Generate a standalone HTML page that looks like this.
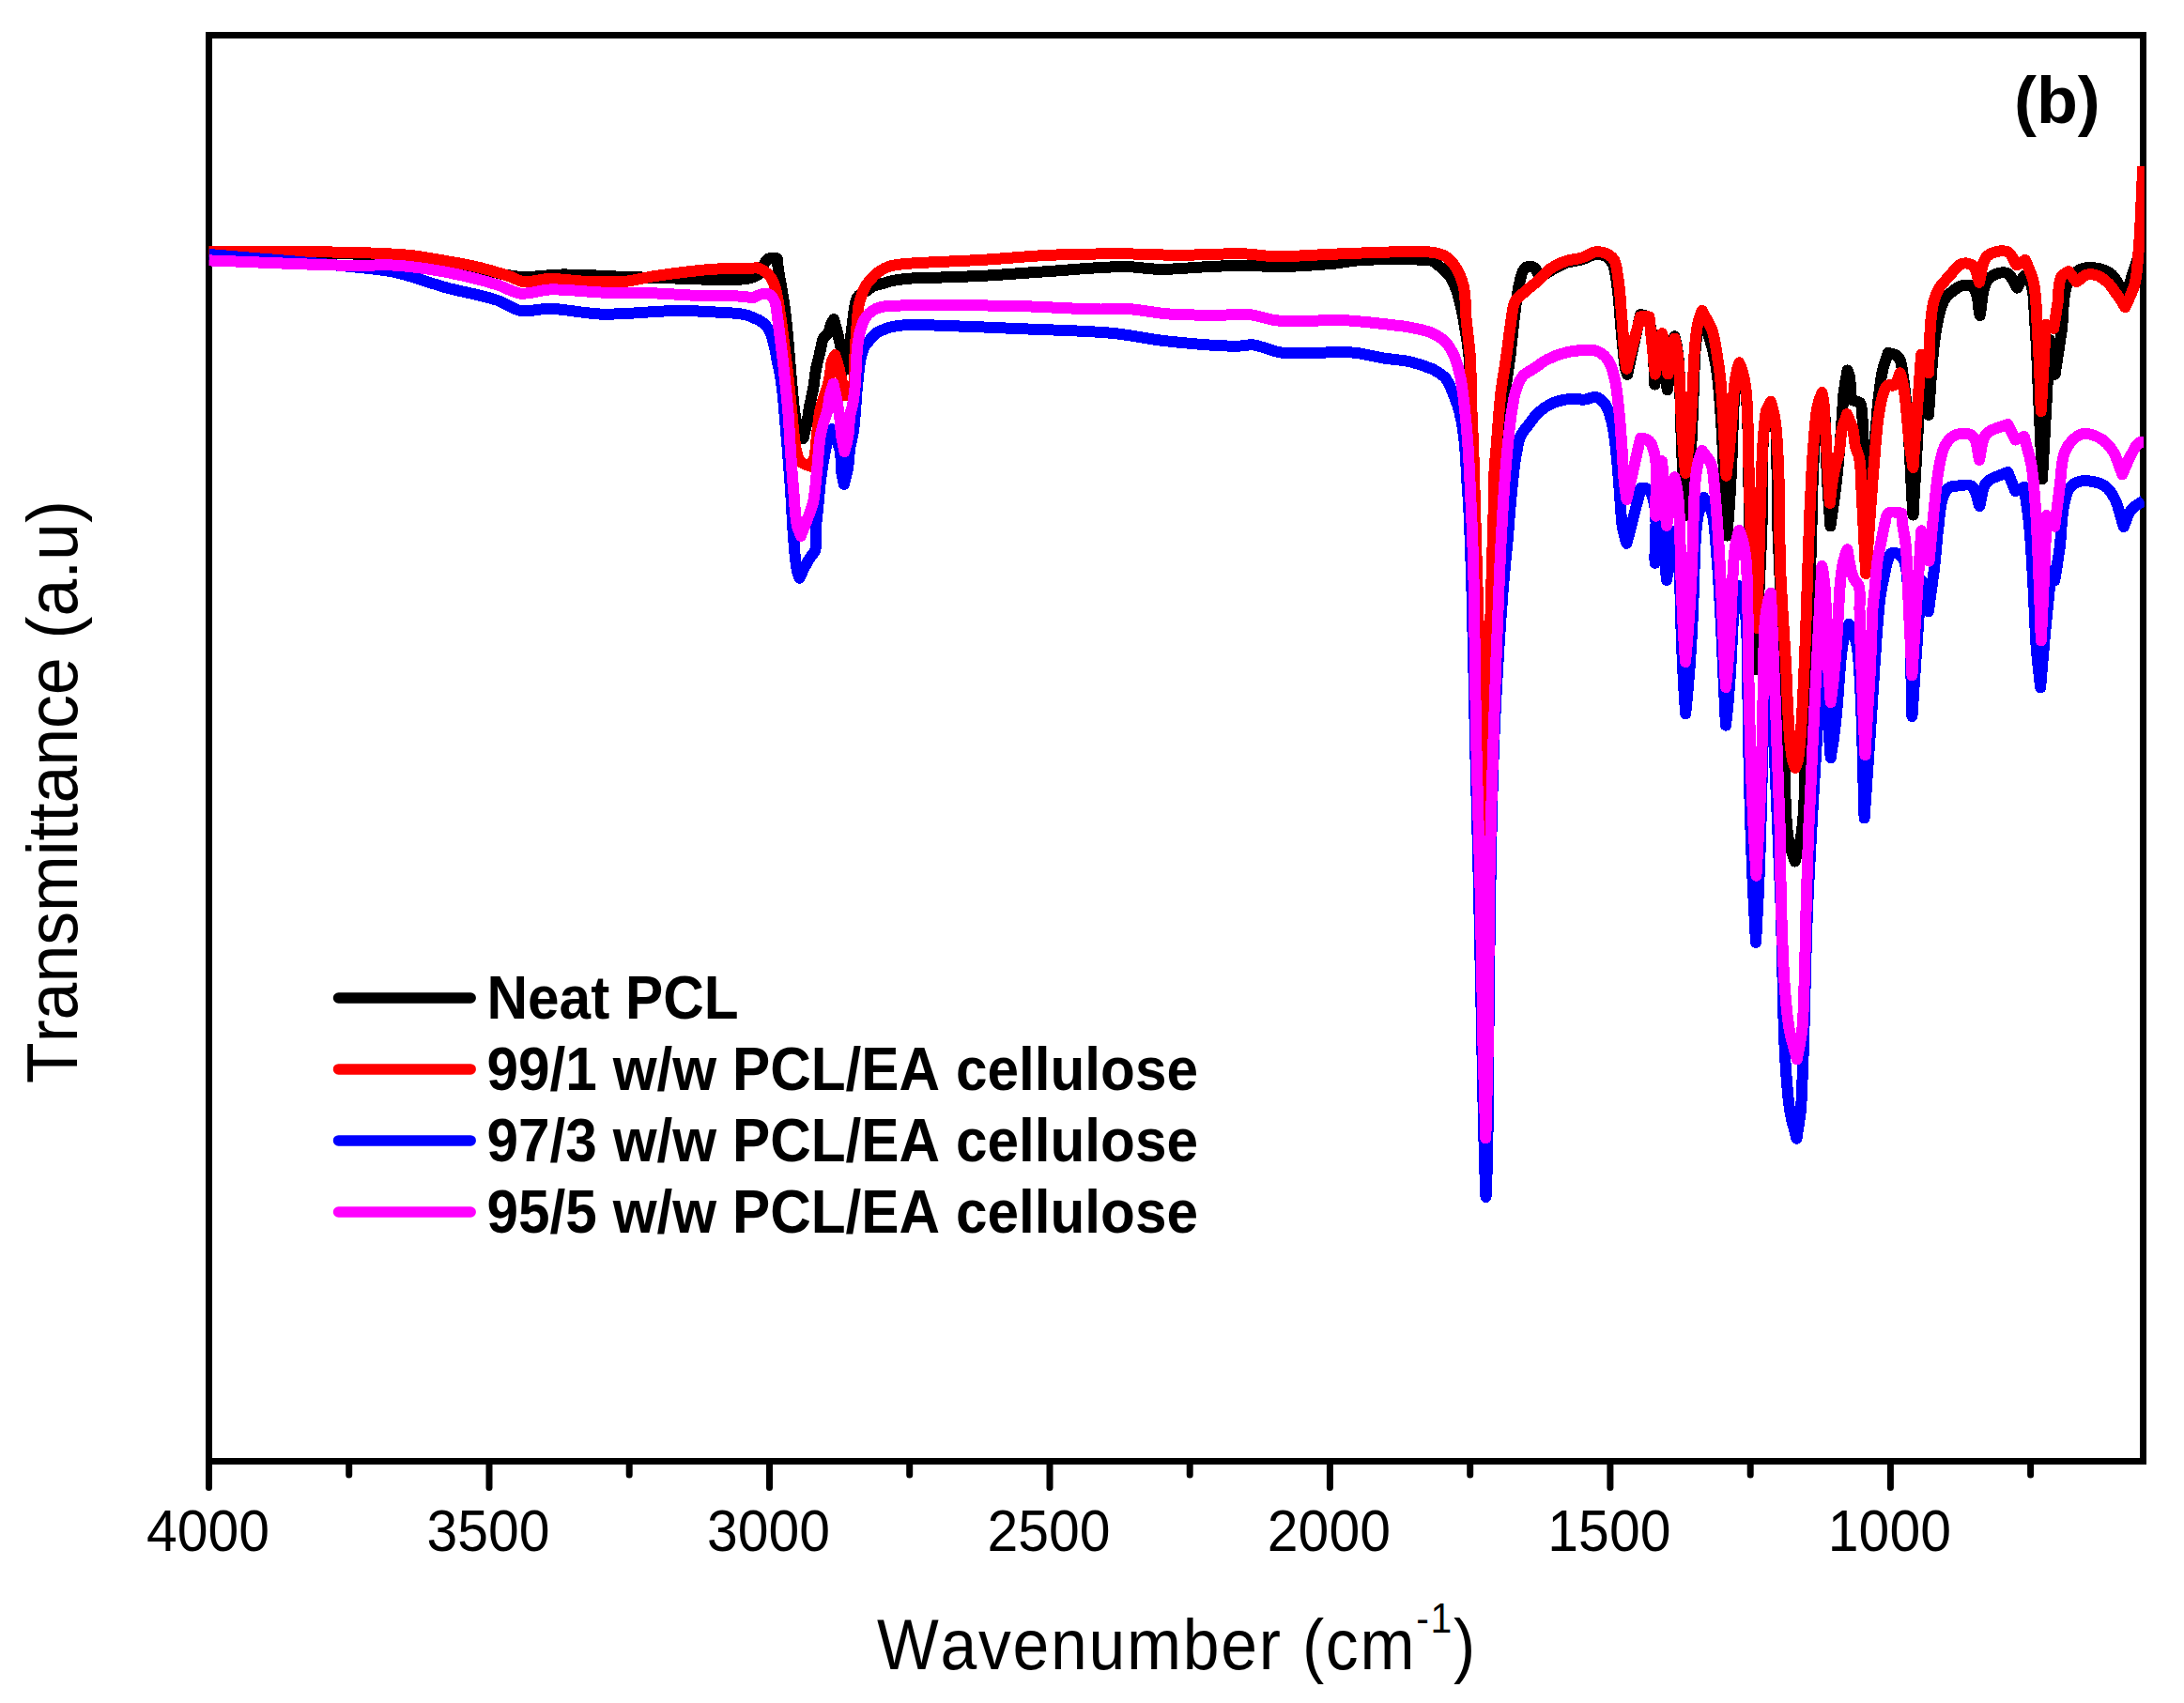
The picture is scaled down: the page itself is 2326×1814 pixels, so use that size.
<!DOCTYPE html>
<html lang="en"><head><meta charset="utf-8"><title>FTIR spectra (b)</title>
<style>
html,body{margin:0;padding:0;background:#fff;}
body{width:2326px;height:1814px;overflow:hidden;}
svg{display:block;}
text{font-family:"Liberation Sans",Arial,Helvetica,sans-serif;fill:#000;font-kerning:none;}
.tk{font-size:63.1px;text-anchor:middle;}
.ax{font-size:75.4px;}
.lg{font-size:65.5px;font-weight:bold;}
.cv{fill:none;stroke-width:12;stroke-linejoin:round;stroke-linecap:butt;}
</style></head>
<body>
<svg width="2326" height="1814" viewBox="0 0 2326 1814">
<rect x="0" y="0" width="2326" height="1814" fill="#fff"/>
<defs><clipPath id="plotclip"><rect x="222.5" y="30" width="2061.3" height="1530"/></clipPath></defs>
<g id="axes" stroke="#000" stroke-width="7" fill="none">
<rect x="222.5" y="37.5" width="2060" height="1519"/>
<g stroke-linecap="round">
<line x1="222.5" y1="1556.5" x2="222.5" y2="1584.5"/>
<line x1="521.0" y1="1556.5" x2="521.0" y2="1584.5"/>
<line x1="819.5" y1="1556.5" x2="819.5" y2="1584.5"/>
<line x1="1118.0" y1="1556.5" x2="1118.0" y2="1584.5"/>
<line x1="1416.4" y1="1556.5" x2="1416.4" y2="1584.5"/>
<line x1="1714.9" y1="1556.5" x2="1714.9" y2="1584.5"/>
<line x1="2013.4" y1="1556.5" x2="2013.4" y2="1584.5"/>
<line x1="371.7" y1="1556.5" x2="371.7" y2="1571"/>
<line x1="670.2" y1="1556.5" x2="670.2" y2="1571"/>
<line x1="968.7" y1="1556.5" x2="968.7" y2="1571"/>
<line x1="1267.2" y1="1556.5" x2="1267.2" y2="1571"/>
<line x1="1565.7" y1="1556.5" x2="1565.7" y2="1571"/>
<line x1="1864.2" y1="1556.5" x2="1864.2" y2="1571"/>
<line x1="2162.6" y1="1556.5" x2="2162.6" y2="1571"/>
</g></g>
<g id="curves" clip-path="url(#plotclip)" shape-rendering="crispEdges">
<path class="cv" stroke="#000000" d="M222.5 270.0C268.6 270.1 330.0 269.3 376.0 270.5C394.0 271.0 418.1 271.7 436.0 273.5C447.8 274.7 463.3 277.5 475.0 279.5C485.5 281.3 499.5 284.1 510.0 286.3C519.9 288.3 533.0 291.9 543.0 293.5C547.2 294.2 552.8 294.9 557.0 295.0C569.3 295.3 585.7 292.7 598.0 292.5C618.7 292.2 646.3 294.3 667.0 295.0C683.5 295.5 705.5 296.1 722.0 296.6C738.5 297.0 760.5 298.4 777.0 298.0C783.0 297.9 791.1 298.0 797.0 296.6C800.5 295.8 805.3 294.3 808.0 292.0C812.2 288.4 813.1 279.3 817.6 276.1C819.1 275.0 821.7 274.9 823.5 274.8C824.7 274.7 826.4 275.2 827.6 275.3C828.1 279.4 828.6 284.8 829.2 288.8C830.1 294.8 831.8 302.7 832.8 308.7C834.0 315.7 835.4 325.1 836.3 332.2C837.6 342.8 838.8 356.9 839.8 367.5C840.9 379.8 842.1 396.3 843.3 408.6C844.3 418.8 845.2 432.5 846.9 442.6C847.8 447.9 848.9 455.1 851.0 460.0C852.0 462.3 854.1 464.9 855.5 467.0C856.5 462.5 858.1 456.5 859.0 452.0C860.2 446.1 861.2 438.0 862.3 432.1C863.2 427.1 864.9 420.6 865.8 415.6C867.1 408.6 868.0 399.1 869.3 392.1C870.5 386.1 872.6 378.2 874.0 372.2C874.7 369.0 875.2 364.6 876.4 361.6C876.8 360.7 877.5 359.5 878.1 358.7C879.2 357.3 881.3 356.0 882.2 354.5C883.7 351.9 883.8 347.7 885.0 345.0C885.7 343.4 887.2 341.5 888.1 340.0C889.7 346.1 891.9 354.2 893.3 360.4C895.6 370.4 898.3 383.8 900.4 393.8C902.0 383.8 904.3 370.4 905.8 360.4C906.8 353.7 907.8 344.8 908.7 338.1C909.2 334.2 909.7 329.0 910.5 325.2C911.0 322.7 911.5 319.2 912.8 317.0C913.9 315.1 916.2 313.2 918.0 312.0C919.4 311.1 921.8 310.7 923.3 309.8C925.2 308.7 927.2 306.1 929.2 305.1C932.2 303.6 936.8 302.9 940.0 302.0C943.0 301.2 946.9 299.8 950.0 299.2C955.8 298.0 963.8 297.1 969.7 296.6C978.8 295.9 990.9 295.9 1000.0 295.6C1014.6 295.1 1034.1 294.5 1048.7 293.7C1069.3 292.6 1096.8 290.3 1117.4 289.0C1142.1 287.4 1175.0 283.9 1199.8 284.1C1210.5 284.2 1224.8 286.8 1235.5 286.9C1249.5 287.1 1268.2 285.0 1282.2 284.4C1295.4 283.8 1313.0 282.7 1326.2 282.7C1336.1 282.7 1349.2 284.2 1359.1 284.1C1377.3 284.0 1401.5 282.4 1419.6 280.8C1427.9 280.0 1438.7 277.9 1447.0 277.3C1467.6 275.9 1495.1 275.9 1515.7 276.7C1518.4 276.8 1522.1 276.6 1524.7 277.5C1526.3 278.1 1528.1 279.7 1529.5 280.8C1533.8 284.2 1539.9 288.8 1543.2 293.2C1546.5 297.6 1549.4 304.5 1551.4 309.7C1553.1 314.1 1554.4 320.4 1555.5 325.0C1556.9 331.0 1558.5 339.0 1559.5 345.0C1561.3 355.5 1563.5 369.4 1564.5 380.0C1566.1 396.9 1566.2 419.5 1566.9 436.4C1567.4 447.7 1568.2 462.7 1568.6 474.0C1569.0 485.3 1569.4 500.3 1569.8 511.6C1570.1 520.1 1570.4 531.3 1570.7 539.8C1571.5 565.3 1572.5 599.2 1573.3 624.7C1574.4 662.3 1575.9 712.4 1577.0 750.0C1578.2 789.0 1579.8 841.0 1581.0 880.0C1582.2 841.0 1583.8 789.0 1585.0 750.0C1586.1 712.4 1587.5 662.3 1588.6 624.7C1589.4 596.4 1590.6 558.7 1591.5 530.4C1591.8 521.9 1591.9 510.6 1592.5 502.2C1593.1 493.7 1594.6 482.5 1595.5 474.0C1596.1 468.4 1596.6 460.8 1597.3 455.2C1598.7 443.9 1601.2 428.9 1602.9 417.6C1604.5 406.3 1606.9 391.3 1608.3 380.0C1609.6 369.5 1610.8 355.5 1612.0 345.0C1612.8 337.9 1614.0 328.4 1615.0 321.3C1615.7 316.4 1616.4 309.8 1617.5 305.0C1618.8 299.4 1619.7 291.2 1623.3 286.7C1624.4 285.3 1626.6 284.0 1628.3 283.8C1630.2 283.6 1632.9 284.3 1634.4 285.5C1637.2 287.7 1638.3 292.9 1640.0 296.0C1643.2 293.9 1647.2 290.9 1650.5 289.0C1655.5 286.0 1662.2 282.1 1667.7 280.1C1672.7 278.3 1679.9 277.9 1685.0 276.4C1689.5 275.1 1695.1 271.3 1699.8 271.0C1703.6 270.8 1708.9 271.9 1712.1 274.0C1714.6 275.7 1716.8 279.3 1718.0 282.0C1720.1 286.7 1720.7 293.6 1721.5 298.7C1722.5 305.0 1723.4 313.6 1724.0 320.0C1724.7 327.5 1725.4 337.5 1726.0 345.0C1726.7 353.1 1727.6 363.9 1728.5 372.0C1729.2 378.0 1729.8 386.1 1731.0 392.0C1731.5 394.1 1732.5 396.9 1733.1 399.0C1737.3 379.9 1742.8 354.4 1747.0 335.3C1748.5 335.5 1750.8 335.1 1752.0 336.0C1754.5 337.7 1756.1 342.0 1757.0 345.0C1762.6 363.6 1760.7 390.2 1762.3 409.6C1762.7 407.3 1763.2 404.3 1763.5 402.0C1763.8 399.9 1764.2 397.0 1764.5 394.9C1764.7 392.9 1765.0 390.3 1765.2 388.3C1765.4 386.5 1765.6 384.1 1765.8 382.4C1765.9 380.7 1766.2 378.6 1766.3 376.9C1766.5 375.5 1766.7 373.6 1766.8 372.1C1767.0 370.8 1767.2 369.1 1767.4 367.9C1767.5 366.8 1767.7 365.4 1767.9 364.3C1768.1 363.4 1768.3 362.2 1768.5 361.3C1768.6 360.7 1768.8 359.8 1769.0 359.1C1769.1 358.6 1769.2 358.0 1769.3 357.6C1769.4 357.4 1769.5 357.2 1769.5 357.0C1769.5 357.2 1769.6 357.5 1769.6 357.7C1769.7 358.2 1769.9 358.8 1770.0 359.3C1770.1 360.1 1770.3 361.1 1770.4 361.8C1770.6 362.8 1770.8 364.1 1770.9 365.1C1771.0 366.3 1771.2 367.9 1771.4 369.1C1771.5 370.5 1771.7 372.4 1771.8 373.8C1772.0 375.4 1772.2 377.6 1772.3 379.2C1772.4 381.0 1772.6 383.4 1772.8 385.2C1772.9 387.2 1773.1 389.9 1773.3 391.9C1773.5 394.0 1773.7 397.0 1773.9 399.1C1774.1 401.5 1774.5 404.7 1774.7 407.0C1775.0 409.6 1775.5 413.0 1775.8 415.5C1776.2 413.0 1776.7 409.7 1777.1 407.2C1777.4 404.9 1777.8 401.8 1778.1 399.5C1778.3 397.3 1778.6 394.5 1778.8 392.3C1779.0 390.4 1779.3 387.8 1779.5 385.8C1779.6 384.0 1779.9 381.7 1780.0 379.9C1780.2 378.3 1780.4 376.2 1780.6 374.7C1780.7 373.3 1781.0 371.4 1781.1 370.1C1781.3 368.9 1781.5 367.3 1781.7 366.1C1781.9 365.2 1782.1 363.9 1782.3 362.9C1782.5 362.2 1782.7 361.2 1782.8 360.5C1782.9 360.0 1783.1 359.3 1783.2 358.9C1783.3 358.7 1783.3 358.4 1783.4 358.2C1783.6 358.9 1783.8 359.7 1784.0 360.4C1784.4 362.0 1784.9 364.2 1785.3 365.8C1785.8 368.2 1786.3 371.5 1786.6 374.0C1787.1 377.2 1787.5 381.5 1787.8 384.7C1788.1 388.6 1788.4 393.8 1788.6 397.8C1788.8 402.4 1789.0 408.5 1789.2 413.1C1789.4 418.4 1789.5 425.4 1789.7 430.7C1789.8 436.6 1790.0 444.5 1790.2 450.4C1790.4 456.9 1790.7 465.6 1790.9 472.2C1791.2 479.3 1791.5 488.8 1791.9 496.0C1792.3 503.7 1792.8 514.0 1793.3 521.8C1793.8 530.1 1794.6 541.2 1795.2 549.5C1796.1 540.2 1797.4 527.7 1798.2 518.4C1798.9 509.7 1799.8 498.2 1800.3 489.5C1800.9 481.5 1801.5 470.8 1801.9 462.8C1802.2 455.5 1802.6 445.7 1802.9 438.4C1803.2 431.8 1803.5 422.9 1803.7 416.3C1803.9 410.4 1804.1 402.5 1804.4 396.6C1804.6 391.4 1804.8 384.5 1805.2 379.4C1805.4 375.0 1805.9 369.1 1806.4 364.7C1806.8 361.1 1807.4 356.3 1808.1 352.7C1808.6 349.9 1809.5 346.2 1810.3 343.5C1810.9 341.7 1811.7 339.2 1812.4 337.4C1812.7 336.7 1813.2 335.7 1813.5 335.0C1814.8 340.1 1816.6 346.9 1818.0 352.0C1819.7 358.0 1822.5 365.9 1824.0 372.0C1826.0 380.3 1828.0 391.5 1829.0 400.0C1835.0 450.9 1836.1 519.4 1839.2 570.6C1839.9 562.7 1840.8 552.3 1841.4 544.4C1841.9 537.1 1842.5 527.4 1843.0 520.1C1843.3 513.3 1843.8 504.3 1844.1 497.6C1844.4 491.4 1844.7 483.2 1844.9 477.0C1845.1 471.5 1845.3 464.0 1845.5 458.4C1845.7 453.5 1845.9 446.8 1846.1 441.9C1846.3 437.5 1846.5 431.7 1846.8 427.4C1847.0 423.6 1847.4 418.7 1847.8 415.0C1848.1 412.0 1848.6 407.9 1849.1 404.9C1849.4 402.6 1850.0 399.5 1850.6 397.2C1850.9 395.6 1851.5 393.6 1851.9 392.1C1852.1 391.4 1852.4 390.6 1852.6 390.0C1853.1 391.1 1853.7 392.6 1854.1 393.7C1855.1 396.4 1856.2 400.0 1856.9 402.8C1857.8 406.9 1858.7 412.5 1859.2 416.6C1859.9 422.0 1860.4 429.3 1860.7 434.7C1861.1 441.3 1861.3 450.2 1861.5 456.8C1861.7 464.6 1861.8 475.0 1861.9 482.8C1862.1 491.7 1862.2 503.5 1862.4 512.4C1862.6 522.4 1862.8 535.7 1863.0 545.7C1863.3 556.7 1863.7 571.4 1864.1 582.4C1864.5 594.5 1865.0 610.6 1865.6 622.6C1866.1 635.7 1867.0 653.1 1867.7 666.2C1868.5 680.2 1869.7 699.0 1870.6 713.0C1871.3 691.1 1872.2 661.9 1873.0 640.0C1873.9 615.9 1875.9 583.9 1876.5 559.8C1876.9 541.9 1876.4 517.9 1876.8 500.0C1877.1 488.0 1877.3 472.0 1878.5 460.0C1879.0 455.2 1879.4 448.6 1881.0 444.0C1881.8 441.7 1883.7 439.1 1884.9 437.0C1886.1 439.1 1888.2 441.7 1889.0 444.0C1890.6 448.6 1891.1 455.2 1891.5 460.0C1892.6 472.0 1892.3 488.0 1892.5 500.0C1892.8 517.9 1892.8 541.9 1893.3 559.8C1893.6 571.9 1894.5 587.9 1895.0 600.0C1896.3 631.5 1898.0 673.5 1899.0 705.0C1899.8 731.6 1900.5 767.2 1901.0 793.8C1901.4 814.9 1900.8 843.2 1902.0 864.3C1902.6 874.4 1903.4 888.0 1905.5 898.0C1906.7 904.0 1909.8 911.6 1911.6 917.5C1913.2 911.6 1915.8 904.0 1917.0 898.0C1918.9 888.0 1920.2 874.5 1920.9 864.3C1922.4 843.2 1922.0 814.9 1922.5 793.8C1923.2 767.2 1924.2 731.6 1925.0 705.0C1925.9 673.5 1927.3 631.5 1928.3 600.0C1928.7 587.9 1929.2 571.9 1929.5 559.8C1929.8 547.1 1930.1 530.2 1930.5 517.5C1931.0 504.7 1931.7 487.7 1932.5 475.0C1933.1 466.0 1933.4 453.9 1935.0 445.0C1936.1 438.9 1938.8 431.0 1940.5 425.0C1941.2 428.9 1942.5 434.1 1943.0 438.0C1944.1 447.5 1944.1 460.4 1944.5 470.0C1945.0 482.0 1945.4 498.0 1946.0 510.0C1946.8 525.2 1948.4 545.4 1949.4 560.5C1951.1 548.4 1953.5 532.2 1955.0 520.0C1956.6 506.6 1958.3 488.7 1959.5 475.2C1960.0 469.6 1960.5 462.0 1960.9 456.4C1961.2 452.2 1961.6 446.5 1961.9 442.3C1962.2 438.1 1962.5 432.4 1962.8 428.2C1963.1 424.0 1963.6 418.3 1964.2 414.1C1965.0 408.2 1966.6 400.4 1967.6 394.5C1968.3 396.8 1969.5 399.7 1970.0 402.0C1970.8 405.8 1970.5 411.1 1971.0 415.0C1971.4 418.3 1970.9 423.4 1973.0 426.0C1974.6 427.9 1979.3 427.1 1980.9 429.0C1983.1 431.6 1982.6 436.7 1983.0 440.0C1984.1 448.9 1984.1 461.0 1984.5 470.0C1985.1 481.5 1985.8 496.7 1986.3 508.2C1989.1 497.6 1993.8 483.8 1995.8 473.0C1998.4 458.6 1998.8 439.1 2000.6 424.6C2001.8 414.9 2003.2 401.8 2005.5 392.3C2006.7 387.3 2009.2 380.9 2010.8 376.0C2012.4 376.3 2014.5 376.4 2016.0 377.0C2018.0 377.7 2020.7 378.8 2022.0 380.5C2024.8 384.1 2025.2 390.6 2026.0 395.0C2033.9 440.5 2034.0 502.5 2037.5 548.6C2040.3 499.5 2044.2 434.1 2047.0 385.0C2049.1 402.1 2051.8 424.8 2053.9 441.9C2056.3 414.8 2057.2 378.3 2062.0 351.5C2063.7 341.8 2065.7 328.3 2070.6 319.8C2073.0 315.6 2078.1 311.2 2082.1 308.3C2084.4 306.6 2087.9 304.5 2090.7 304.0C2093.7 303.5 2098.5 303.4 2100.8 305.4C2107.9 311.8 2106.3 327.0 2108.6 336.2C2111.4 324.4 2109.8 305.7 2118.1 296.8C2122.1 292.5 2131.2 289.0 2136.8 290.8C2142.4 292.6 2144.9 301.9 2148.3 306.6C2150.5 302.8 2153.3 297.8 2155.5 294.0C2157.4 295.8 2160.8 297.6 2162.0 300.0C2167.5 310.8 2165.9 328.0 2167.0 340.0C2169.1 363.9 2169.9 396.0 2171.0 420.0C2172.3 447.1 2173.8 483.3 2175.0 510.4C2176.5 483.3 2178.6 447.1 2180.0 420.0C2180.9 402.6 2182.0 379.4 2182.8 362.0C2184.5 373.0 2186.9 387.7 2188.6 398.7C2190.8 384.5 2193.7 365.7 2195.8 351.5C2198.1 336.0 2195.8 313.6 2203.0 299.7C2205.7 294.4 2211.8 288.1 2217.4 286.2C2224.8 283.7 2236.2 285.3 2243.3 288.6C2247.7 290.6 2252.3 295.6 2254.8 299.7C2258.6 305.9 2259.8 315.8 2262.0 322.7C2264.6 314.1 2268.0 302.5 2270.6 293.9C2272.7 287.0 2276.4 278.0 2277.8 270.9C2280.7 256.5 2280.9 236.7 2282.2 222.0"/>
<path class="cv" stroke="#ff0000" d="M222.5 268.4C268.6 268.5 330.0 267.7 376.0 268.9C394.0 269.4 418.1 270.1 436.0 271.9C447.8 273.1 463.3 276.0 475.0 278.0C485.5 279.8 499.6 282.3 510.0 284.8C520.0 287.2 533.2 291.2 543.0 294.5C547.3 296.0 552.5 299.4 557.0 300.0C565.4 301.1 576.6 297.1 585.0 297.0C597.3 296.8 613.7 299.6 626.0 300.0C638.3 300.4 654.8 300.9 667.0 299.7C675.5 298.9 686.6 295.8 695.0 294.5C707.3 292.5 723.7 290.4 736.0 289.0C743.2 288.2 752.8 287.1 760.0 286.7C772.0 286.0 788.0 286.3 800.0 285.8C802.0 285.7 804.6 285.1 806.5 285.4C808.7 285.8 811.5 287.0 813.4 288.3C816.3 290.2 819.7 293.6 821.6 296.5C823.2 298.9 824.4 302.5 825.3 305.2C826.7 309.7 827.7 315.9 828.6 320.5C829.9 327.5 831.3 336.9 832.3 344.0C833.5 352.8 834.9 364.5 836.0 373.3C837.1 382.1 838.6 393.9 839.6 402.7C840.8 413.2 842.0 427.3 843.2 437.9C844.7 451.1 845.4 469.0 848.5 482.0C849.2 485.0 849.9 489.3 852.0 491.5C854.5 494.2 859.7 495.1 863.0 496.7C864.3 493.8 866.5 490.2 867.3 487.2C868.6 482.7 868.7 476.4 869.2 471.7C869.9 465.9 870.5 458.1 871.2 452.3C871.8 447.7 872.6 441.5 873.5 437.0C874.2 433.7 875.4 429.4 876.4 426.2C877.7 421.9 879.9 416.4 881.1 412.1C882.2 408.3 883.3 403.1 884.0 399.2C884.7 395.0 884.5 389.2 885.8 385.1C886.5 382.9 888.2 380.3 889.3 378.2C890.6 382.3 892.4 387.8 893.5 392.0C894.7 396.8 895.9 403.2 897.0 408.0C898.0 412.0 899.4 417.4 900.4 421.4C901.8 421.0 903.9 420.9 905.0 420.0C906.5 418.8 907.6 416.3 908.2 414.5C910.8 406.0 909.5 393.9 910.0 385.1C910.3 379.8 910.8 372.8 911.1 367.5C911.4 362.2 911.9 355.1 912.3 349.8C912.9 342.4 913.3 332.5 914.6 325.2C915.2 322.0 916.4 317.7 917.5 314.6C918.7 311.3 920.4 306.9 922.2 304.0C924.5 300.3 928.4 295.8 931.6 292.9C934.4 290.4 938.7 287.5 942.1 285.8C944.3 284.7 947.6 283.6 950.0 283.0C955.8 281.6 963.8 281.1 969.7 280.6C978.8 279.8 990.9 279.5 1000.0 279.0C1014.6 278.3 1034.1 277.6 1048.7 276.7C1069.3 275.5 1096.8 272.7 1117.4 271.8C1142.1 270.7 1175.1 270.3 1199.8 270.4C1216.3 270.5 1238.2 271.8 1254.7 271.8C1276.2 271.9 1304.8 269.7 1326.2 270.4C1335.3 270.7 1347.3 272.9 1356.4 273.1C1375.4 273.6 1400.6 271.4 1419.6 270.7C1442.7 269.9 1473.4 268.3 1496.5 268.2C1505.6 268.2 1517.8 267.5 1526.7 269.0C1530.7 269.7 1536.1 271.1 1539.5 273.2C1543.0 275.4 1547.0 279.6 1549.3 283.0C1553.2 288.7 1556.8 297.3 1558.5 304.0C1561.3 314.8 1560.6 329.9 1561.7 341.0C1562.8 352.7 1565.0 368.3 1565.8 380.0C1566.9 396.9 1566.8 419.5 1567.4 436.4C1567.8 447.7 1568.7 462.7 1569.1 474.0C1569.5 485.3 1569.9 500.3 1570.2 511.6C1570.4 520.1 1570.8 531.3 1571.0 539.8C1571.7 565.3 1572.8 599.2 1573.5 624.7C1574.6 662.3 1575.9 712.4 1577.0 750.0C1578.2 791.4 1579.8 846.6 1581.0 888.0C1582.2 846.6 1583.9 791.4 1585.0 750.0C1586.0 712.4 1587.3 662.3 1588.3 624.7C1589.1 596.4 1590.3 558.7 1591.0 530.4C1591.2 521.9 1591.1 510.7 1591.5 502.2C1591.9 493.7 1593.1 482.5 1593.8 474.0C1594.2 468.4 1594.7 460.8 1595.2 455.2C1596.1 443.9 1597.2 428.8 1598.5 417.6C1599.9 406.3 1602.6 391.3 1604.2 380.0C1605.9 368.3 1607.5 352.6 1609.5 341.0C1610.5 335.1 1610.7 326.6 1613.5 321.3C1615.5 317.6 1620.2 314.2 1623.3 311.4C1627.6 307.5 1633.8 302.9 1638.1 299.0C1642.0 295.5 1646.2 289.8 1650.5 286.7C1655.2 283.3 1662.3 280.0 1667.7 278.1C1672.7 276.3 1679.9 276.0 1685.0 274.4C1689.6 273.0 1695.0 268.7 1699.8 268.2C1703.5 267.8 1708.8 269.0 1712.1 270.7C1714.8 272.1 1717.9 275.0 1719.4 277.6C1721.7 281.7 1722.0 288.3 1722.8 292.9C1723.7 298.1 1724.6 305.2 1725.1 310.5C1725.8 317.5 1726.3 327.0 1726.9 334.0C1727.5 341.1 1728.3 350.4 1728.8 357.5C1729.3 364.5 1729.7 374.0 1730.5 381.0C1730.9 384.5 1731.8 389.2 1732.3 392.7C1736.7 376.1 1742.6 354.0 1747.0 337.4C1749.8 337.4 1753.6 337.4 1756.4 337.4C1758.3 355.8 1760.9 380.2 1762.8 398.6C1763.2 396.7 1763.7 394.2 1764.0 392.3C1764.3 390.6 1764.7 388.2 1765.0 386.5C1765.2 384.8 1765.5 382.7 1765.7 381.1C1765.9 379.6 1766.2 377.6 1766.3 376.1C1766.5 374.8 1766.7 373.0 1766.9 371.6C1767.0 370.5 1767.2 368.9 1767.4 367.7C1767.5 366.6 1767.8 365.2 1767.9 364.2C1768.1 363.3 1768.3 362.1 1768.5 361.2C1768.6 360.5 1768.9 359.5 1769.0 358.8C1769.2 358.2 1769.4 357.5 1769.6 356.9C1769.7 356.6 1769.8 356.1 1769.9 355.7C1770.0 355.5 1770.1 355.3 1770.1 355.2C1770.1 355.3 1770.2 355.5 1770.2 355.7C1770.3 356.1 1770.5 356.6 1770.6 356.9C1770.7 357.5 1770.9 358.2 1771.0 358.8C1771.2 359.5 1771.4 360.5 1771.5 361.2C1771.6 362.1 1771.8 363.3 1772.0 364.2C1772.1 365.2 1772.3 366.6 1772.4 367.6C1772.6 368.8 1772.8 370.4 1772.9 371.6C1773.0 372.9 1773.2 374.7 1773.4 376.1C1773.5 377.5 1773.7 379.5 1773.9 381.0C1774.1 382.6 1774.3 384.8 1774.5 386.4C1774.7 388.1 1775.1 390.5 1775.3 392.2C1775.6 394.1 1776.1 396.6 1776.4 398.5C1776.8 396.8 1777.3 394.6 1777.6 393.0C1777.9 391.5 1778.2 389.4 1778.5 387.9C1778.7 386.5 1779.0 384.6 1779.2 383.1C1779.4 381.8 1779.6 380.1 1779.8 378.8C1779.9 377.6 1780.1 376.1 1780.3 374.9C1780.5 373.9 1780.6 372.5 1780.8 371.4C1781.0 370.5 1781.2 369.3 1781.3 368.4C1781.5 367.6 1781.7 366.5 1781.9 365.8C1782.0 365.1 1782.2 364.3 1782.4 363.6C1782.5 363.1 1782.7 362.5 1782.9 362.0C1783.0 361.7 1783.1 361.3 1783.2 360.9C1783.3 360.8 1783.4 360.6 1783.4 360.5C1783.5 361.0 1783.7 361.6 1783.9 362.1C1784.2 363.3 1784.6 365.0 1784.9 366.2C1785.3 368.0 1785.7 370.5 1786.0 372.3C1786.4 374.7 1786.8 377.9 1787.1 380.3C1787.5 383.3 1787.8 387.2 1788.0 390.1C1788.3 393.6 1788.6 398.2 1788.8 401.7C1789.0 405.6 1789.2 410.9 1789.4 414.8C1789.6 419.2 1789.8 425.1 1790.0 429.6C1790.2 434.5 1790.5 441.0 1790.8 445.9C1791.1 451.2 1791.4 458.4 1791.8 463.7C1792.2 469.5 1792.7 477.2 1793.2 483.0C1793.7 489.3 1794.5 497.6 1795.1 503.8C1796.0 496.3 1797.2 486.3 1798.0 478.7C1798.7 471.7 1799.5 462.4 1800.1 455.4C1800.6 448.9 1801.2 440.3 1801.6 433.9C1801.9 428.0 1802.4 420.1 1802.7 414.2C1802.9 408.8 1803.2 401.7 1803.5 396.4C1803.7 391.6 1804.0 385.2 1804.3 380.5C1804.5 376.3 1804.9 370.7 1805.3 366.6C1805.6 363.0 1806.1 358.3 1806.6 354.7C1807.0 351.8 1807.6 347.9 1808.3 345.1C1808.8 342.8 1809.5 339.9 1810.2 337.7C1810.7 336.2 1811.4 334.2 1812.0 332.8C1812.2 332.2 1812.6 331.4 1812.8 330.8C1814.2 333.5 1816.1 337.1 1817.5 339.8C1819.3 343.3 1821.9 347.9 1823.3 351.6C1824.6 355.0 1825.6 359.8 1826.3 363.3C1827.4 368.6 1828.4 375.7 1829.2 381.0C1830.1 387.3 1831.5 395.7 1832.1 402.0C1835.2 433.3 1836.6 475.3 1838.5 506.7C1839.2 501.5 1840.1 494.5 1840.8 489.2C1841.3 484.4 1842.0 477.9 1842.4 473.0C1842.9 468.5 1843.3 462.5 1843.7 458.0C1844.0 453.9 1844.4 448.4 1844.7 444.3C1844.9 440.6 1845.2 435.7 1845.5 431.9C1845.7 428.6 1846.0 424.2 1846.3 420.9C1846.6 418.0 1846.9 414.1 1847.2 411.2C1847.5 408.7 1847.9 405.4 1848.3 403.0C1848.7 400.9 1849.2 398.2 1849.6 396.2C1849.9 394.7 1850.4 392.6 1850.8 391.1C1851.1 390.1 1851.5 388.7 1851.8 387.7C1852.0 387.3 1852.2 386.7 1852.3 386.3C1852.7 387.3 1853.3 388.5 1853.7 389.5C1854.6 391.9 1855.7 395.1 1856.3 397.5C1857.3 401.1 1858.2 406.0 1858.8 409.6C1859.5 414.3 1860.0 420.7 1860.4 425.4C1860.8 431.2 1861.1 439.0 1861.3 444.8C1861.6 451.6 1861.7 460.7 1861.9 467.5C1862.1 475.3 1862.3 485.7 1862.4 493.4C1862.6 502.2 1862.9 513.8 1863.1 522.6C1863.4 532.2 1863.8 545.1 1864.2 554.7C1864.6 565.3 1865.2 579.4 1865.8 589.9C1866.3 601.3 1867.2 616.6 1868.0 628.0C1868.8 640.3 1870.1 656.7 1871.0 669.0C1871.7 648.3 1872.6 620.7 1873.2 600.0C1874.1 570.9 1874.9 532.1 1876.0 503.0C1876.1 500.3 1876.3 496.7 1876.4 494.0C1876.7 488.4 1876.9 480.8 1877.3 475.2C1877.8 468.1 1878.4 458.7 1879.2 451.7C1879.7 447.5 1879.9 441.7 1881.1 437.6C1882.0 434.5 1884.4 430.7 1885.8 427.8C1887.0 432.2 1888.8 437.9 1889.7 442.3C1890.5 446.5 1891.2 452.2 1891.6 456.4C1892.2 462.0 1892.7 469.6 1893.0 475.2C1893.3 480.8 1893.7 488.4 1893.9 494.0C1894.1 499.6 1894.4 507.2 1894.6 512.8C1894.8 521.3 1895.0 532.5 1895.1 541.0C1895.2 546.6 1895.2 554.2 1895.3 559.8C1895.5 571.9 1895.5 587.9 1895.9 600.0C1897.0 631.7 1900.1 674.0 1901.9 705.7C1903.4 732.1 1904.0 767.5 1906.8 793.8C1907.4 799.0 1908.2 805.9 1909.5 811.0C1910.0 813.1 1911.2 815.8 1912.0 817.8C1912.8 815.8 1914.0 813.1 1914.5 811.0C1915.8 805.9 1916.3 799.0 1916.8 793.8C1919.3 767.4 1920.6 732.1 1921.8 705.7C1923.3 674.0 1924.4 631.7 1925.5 600.0C1925.9 587.9 1926.5 571.9 1926.9 559.8C1927.1 554.2 1927.4 546.6 1927.6 541.0C1927.9 533.9 1928.5 524.6 1928.8 517.5C1929.1 510.5 1929.5 501.0 1929.9 494.0C1930.2 488.4 1930.9 480.8 1931.3 475.2C1931.8 468.1 1932.5 458.7 1933.2 451.7C1933.8 446.0 1934.4 438.4 1935.6 432.9C1936.6 428.3 1939.0 422.5 1940.4 418.0C1941.0 421.1 1941.9 425.1 1942.3 428.2C1943.0 433.8 1942.9 441.4 1943.3 447.0C1943.7 452.6 1944.3 460.2 1944.7 465.8C1945.0 471.1 1945.3 478.3 1945.6 483.6C1946.5 499.3 1947.8 520.2 1948.8 535.9C1949.6 529.0 1950.5 519.7 1951.6 512.8C1952.5 507.1 1954.0 499.6 1955.4 494.0C1956.1 491.1 1957.6 487.5 1958.2 484.6C1960.0 476.3 1960.1 464.7 1962.0 456.4C1963.1 451.7 1965.6 445.6 1967.1 441.0C1969.0 445.8 1972.0 451.9 1973.3 456.9C1974.8 462.6 1974.7 470.5 1976.1 476.2C1977.0 479.7 1979.4 484.0 1980.1 487.5C1982.2 497.5 1981.9 511.2 1982.5 521.4C1983.4 535.9 1984.2 555.3 1985.0 569.8C1985.6 582.2 1986.5 598.6 1987.2 611.0C1988.5 593.8 1990.1 570.9 1991.4 553.7C1992.8 534.3 1994.6 508.5 1996.3 489.1C1997.6 474.6 1998.6 455.1 2001.1 440.7C2002.5 432.7 2004.0 421.7 2007.6 414.4C2008.3 413.0 2009.4 411.1 2010.8 410.4C2012.6 409.5 2015.7 411.4 2017.3 410.3C2021.0 407.9 2021.6 401.1 2023.5 397.2C2023.6 397.5 2023.8 398.0 2023.9 398.4C2024.2 399.2 2024.5 400.3 2024.8 401.2C2025.1 402.5 2025.6 404.2 2025.9 405.5C2026.3 407.2 2026.8 409.5 2027.1 411.2C2027.5 413.2 2027.9 416.0 2028.2 418.0C2028.5 420.5 2028.9 423.7 2029.2 426.1C2029.5 428.9 2029.9 432.6 2030.1 435.4C2030.4 438.5 2030.8 442.7 2031.1 445.8C2031.4 449.2 2031.8 453.8 2032.1 457.3C2032.5 461.0 2033.0 466.0 2033.4 469.8C2033.9 473.9 2034.6 479.3 2035.2 483.4C2035.8 487.8 2036.8 493.6 2037.5 498.0C2040.1 461.9 2043.5 413.8 2046.1 377.7C2048.4 383.6 2051.6 391.6 2053.9 397.5C2055.5 375.1 2053.9 344.6 2059.1 322.7C2060.4 317.2 2063.3 310.2 2066.3 305.4C2068.7 301.5 2073.3 297.3 2076.4 293.9C2080.1 289.9 2084.1 282.7 2089.3 281.0C2092.6 279.9 2098.1 280.5 2100.8 282.7C2105.4 286.3 2105.8 295.4 2108.0 300.8C2110.6 292.3 2110.1 278.5 2116.7 272.6C2121.6 268.2 2132.1 265.8 2138.2 268.3C2142.9 270.2 2144.8 278.2 2147.7 282.4C2150.5 280.8 2154.2 278.5 2157.0 276.9C2159.6 283.7 2164.0 292.6 2165.6 299.7C2169.0 314.9 2168.9 335.9 2169.9 351.5C2171.1 368.8 2172.1 391.8 2172.8 409.1C2173.2 417.8 2173.4 429.4 2173.7 438.1C2174.7 420.8 2176.2 397.6 2177.1 380.3C2177.6 369.9 2178.1 356.1 2178.5 345.7C2181.1 347.0 2184.6 348.7 2187.2 350.0C2188.5 341.8 2190.2 330.9 2191.5 322.7C2192.8 314.1 2191.2 301.3 2195.8 293.9C2197.2 291.7 2200.8 290.5 2203.0 289.0C2205.6 292.4 2209.0 296.9 2211.6 300.3C2215.1 298.0 2219.1 293.5 2223.2 292.5C2226.6 291.7 2231.5 292.6 2234.7 293.9C2238.7 295.5 2243.1 299.5 2246.2 302.6C2249.2 305.7 2252.3 310.6 2254.8 314.1C2257.5 318.0 2260.9 323.3 2263.5 327.3C2266.5 319.9 2271.5 310.3 2273.5 302.6C2276.3 291.6 2276.8 276.4 2277.8 265.1C2278.9 252.2 2279.6 234.9 2280.2 222.0C2280.9 208.6 2281.6 190.7 2282.2 177.3"/>
<path class="cv" stroke="#0000ff" d="M222.5 271.0C268.6 275.0 330.0 279.4 376.0 284.3C389.2 285.7 407.0 287.1 420.0 289.8C436.9 293.4 458.4 301.7 475.0 306.3C491.4 310.8 513.9 314.4 530.0 320.0C537.6 322.6 546.5 329.6 554.4 331.0C563.5 332.6 575.8 328.6 585.0 328.8C601.6 329.1 623.4 334.1 640.0 334.6C664.6 335.4 697.4 331.1 722.0 331.0C733.4 331.0 748.6 331.6 760.0 332.4C771.1 333.1 786.3 332.9 797.0 336.0C798.0 336.3 799.1 337.1 800.0 337.5C802.4 338.6 805.9 339.7 808.2 341.0C810.5 342.3 813.5 344.4 815.3 346.3C817.3 348.4 819.4 351.8 820.6 354.5C822.3 358.3 823.5 363.9 824.5 368.0C825.6 372.5 826.6 378.5 827.5 383.0C828.5 388.1 830.0 394.9 830.9 400.0C831.9 406.0 833.0 414.0 833.7 420.0C835.0 432.0 836.0 448.0 837.1 460.0C837.4 463.5 837.9 468.2 838.2 471.7C839.5 487.2 841.0 507.8 842.1 523.3C843.2 538.8 843.9 559.5 845.3 575.0C846.2 585.5 846.9 599.7 849.4 609.9C849.8 611.7 850.9 614.0 851.6 615.7C852.9 612.8 854.6 608.9 856.0 606.0C857.7 602.6 860.0 598.2 862.0 595.0C863.6 592.4 867.0 589.5 868.0 586.6C870.4 579.6 868.5 569.4 869.0 562.1C869.4 556.3 870.3 548.5 870.9 542.7C871.9 533.0 872.9 520.1 874.1 510.4C874.8 505.0 875.9 497.7 876.8 492.3C877.7 486.9 878.9 479.7 880.1 474.3C880.9 470.4 881.7 465.0 883.3 461.3C883.9 459.9 885.1 458.4 885.9 457.1C887.1 459.5 888.8 462.7 889.8 465.2C890.9 467.9 892.2 471.5 893.0 474.3C893.7 476.6 894.6 479.6 895.0 482.0C896.0 488.1 895.5 496.5 896.3 502.7C896.8 506.7 898.0 512.0 898.8 516.0C900.1 510.4 902.3 503.1 903.2 497.5C904.2 491.7 904.2 483.9 905.1 478.1C906.0 472.3 908.1 464.6 909.0 458.8C909.9 453.0 910.4 445.2 910.9 439.4C911.4 433.6 911.7 425.8 912.2 420.0C912.6 414.8 913.3 407.9 913.9 402.7C914.6 396.7 915.2 388.6 916.5 382.7C917.5 378.4 918.9 372.5 921.0 368.6C922.2 366.4 924.7 364.1 926.3 362.2C928.2 360.0 930.4 356.8 932.7 355.1C934.6 353.7 937.6 352.5 939.8 351.6C942.8 350.4 946.8 348.8 950.0 348.1C955.8 346.8 963.8 346.2 969.7 346.0C978.8 345.6 990.9 346.4 1000.0 346.7C1027.0 347.6 1062.9 349.1 1089.9 350.3C1118.7 351.6 1157.3 352.2 1186.0 355.0C1202.6 356.6 1224.4 361.4 1241.0 363.2C1264.0 365.7 1294.8 368.8 1317.9 368.7C1322.9 368.7 1329.5 366.9 1334.4 367.4C1343.7 368.3 1355.3 374.4 1364.6 375.6C1387.5 378.6 1418.5 373.5 1441.5 375.6C1451.5 376.5 1464.6 380.0 1474.5 381.6C1482.7 382.9 1493.9 383.5 1502.0 385.4C1509.0 387.0 1518.1 390.0 1524.7 392.8C1526.4 393.5 1528.5 394.7 1530.0 395.7C1533.0 397.6 1537.1 400.0 1539.4 402.6C1541.3 404.8 1542.8 408.4 1544.1 411.0C1545.7 414.3 1547.5 418.9 1548.8 422.3C1550.0 425.4 1551.6 429.5 1552.6 432.6C1553.8 436.6 1555.2 441.9 1556.0 446.0C1557.6 454.3 1559.1 465.6 1560.0 474.0C1561.1 485.2 1561.6 500.3 1562.3 511.6C1562.8 520.1 1563.8 531.3 1564.2 539.8C1565.5 565.3 1566.6 599.2 1567.4 624.7C1568.8 672.6 1569.8 736.6 1570.9 784.5C1572.1 833.9 1573.9 899.6 1575.0 949.0C1576.1 998.3 1577.3 1064.1 1578.3 1113.4C1579.1 1150.4 1579.9 1199.8 1581.0 1236.8C1581.4 1248.3 1582.0 1263.5 1582.5 1275.0C1583.0 1263.5 1583.7 1248.3 1584.0 1236.8C1584.9 1199.8 1584.9 1150.4 1585.3 1113.4C1585.9 1064.1 1586.4 998.3 1587.3 949.0C1588.2 899.6 1589.3 833.8 1591.4 784.5C1593.4 736.5 1597.3 672.6 1601.0 624.7C1602.1 609.9 1604.3 590.1 1605.6 575.3C1606.9 560.5 1608.3 540.8 1609.8 526.0C1610.9 514.9 1612.1 500.0 1614.0 489.0C1615.3 481.5 1616.5 471.2 1619.6 464.3C1621.4 460.2 1625.6 455.6 1628.3 452.0C1631.1 448.2 1634.6 442.9 1638.1 439.7C1642.0 436.1 1648.0 432.0 1652.9 429.8C1658.5 427.3 1666.6 425.5 1672.7 424.9C1677.1 424.5 1683.1 425.9 1687.5 425.6C1691.3 425.3 1696.1 422.2 1699.8 423.1C1703.5 424.0 1707.5 427.9 1709.7 431.0C1713.6 436.4 1715.5 445.5 1717.1 452.0C1719.7 462.9 1720.8 477.9 1722.0 489.0C1723.2 500.1 1724.1 514.9 1725.0 526.0C1725.9 537.1 1726.3 552.0 1728.2 563.0C1729.0 567.9 1731.1 574.2 1732.4 579.0C1737.0 561.3 1743.0 537.6 1747.6 519.9C1749.2 519.9 1751.5 519.3 1753.0 520.0C1755.3 521.0 1757.7 523.7 1758.7 526.0C1767.5 546.4 1761.4 577.7 1762.6 599.8C1763.0 597.2 1763.5 593.8 1763.8 591.3C1764.2 588.9 1764.5 585.7 1764.8 583.3C1765.0 581.2 1765.3 578.2 1765.5 576.0C1765.7 574.0 1766.0 571.3 1766.1 569.3C1766.3 567.5 1766.5 565.1 1766.7 563.3C1766.8 561.7 1767.0 559.5 1767.2 557.9C1767.3 556.5 1767.6 554.6 1767.7 553.2C1767.9 552.0 1768.1 550.3 1768.3 549.1C1768.4 548.1 1768.7 546.8 1768.8 545.8C1769.0 545.1 1769.2 544.1 1769.4 543.3C1769.5 542.8 1769.6 542.2 1769.7 541.7C1769.8 541.5 1769.9 541.2 1769.9 541.0C1769.9 541.3 1770.0 541.6 1770.0 541.9C1770.1 542.5 1770.2 543.4 1770.3 544.1C1770.4 545.0 1770.5 546.4 1770.6 547.3C1770.7 548.6 1770.9 550.4 1771.0 551.6C1771.1 553.2 1771.3 555.3 1771.4 556.9C1771.5 558.8 1771.6 561.2 1771.7 563.1C1771.9 565.2 1772.0 568.0 1772.1 570.1C1772.2 572.5 1772.4 575.7 1772.5 578.1C1772.6 580.7 1772.8 584.2 1772.9 586.8C1773.0 589.7 1773.2 593.5 1773.4 596.4C1773.6 599.5 1773.8 603.6 1774.1 606.8C1774.3 610.1 1774.6 614.6 1774.9 617.9C1775.3 615.6 1775.9 612.6 1776.3 610.4C1776.7 608.3 1777.1 605.5 1777.4 603.4C1777.7 601.4 1778.1 598.9 1778.3 596.9C1778.5 595.2 1778.8 592.8 1779.0 591.0C1779.2 589.4 1779.4 587.3 1779.6 585.7C1779.8 584.2 1780.1 582.3 1780.3 580.9C1780.4 579.7 1780.7 578.0 1780.9 576.7C1781.1 575.7 1781.3 574.2 1781.5 573.2C1781.7 572.3 1782.0 571.1 1782.2 570.3C1782.3 569.6 1782.6 568.7 1782.8 568.1C1782.9 567.6 1783.1 567.0 1783.2 566.6C1783.3 566.4 1783.3 566.2 1783.4 566.0C1783.6 566.7 1783.8 567.5 1784.0 568.2C1784.4 569.9 1785.0 572.1 1785.3 573.7C1785.8 576.2 1786.3 579.5 1786.7 582.0C1787.1 585.3 1787.5 589.6 1787.8 592.9C1788.1 596.9 1788.4 602.2 1788.6 606.2C1788.9 610.9 1789.1 617.1 1789.2 621.8C1789.4 627.2 1789.5 634.3 1789.7 639.6C1789.8 645.6 1790.0 653.6 1790.2 659.7C1790.4 666.3 1790.7 675.1 1790.9 681.8C1791.2 689.0 1791.6 698.7 1791.9 705.9C1792.3 713.8 1792.8 724.3 1793.3 732.1C1793.8 740.6 1794.6 751.8 1795.2 760.3C1796.1 750.3 1797.5 736.9 1798.3 726.9C1799.1 717.6 1800.0 705.2 1800.6 695.9C1801.2 687.3 1801.8 675.8 1802.3 667.2C1802.6 659.4 1803.1 648.9 1803.4 641.0C1803.6 633.9 1803.9 624.4 1804.2 617.3C1804.4 610.9 1804.6 602.5 1804.8 596.1C1805.0 590.6 1805.3 583.2 1805.6 577.6C1805.9 572.9 1806.3 566.6 1806.8 561.9C1807.2 558.0 1807.9 552.8 1808.6 549.0C1809.2 546.0 1810.2 542.1 1811.0 539.2C1811.6 537.2 1812.6 534.6 1813.4 532.6C1813.7 531.8 1814.2 530.8 1814.6 530.0C1817.1 534.5 1821.4 540.1 1823.0 545.0C1825.9 553.6 1826.1 566.0 1827.0 575.0C1832.6 634.1 1834.7 713.4 1838.0 772.7C1838.7 766.2 1839.7 757.6 1840.3 751.2C1840.8 745.2 1841.5 737.2 1841.9 731.2C1842.4 725.6 1842.8 718.2 1843.2 712.7C1843.5 707.6 1843.8 700.8 1844.1 695.8C1844.3 691.2 1844.6 685.1 1844.8 680.5C1845.0 676.4 1845.3 670.9 1845.5 666.8C1845.7 663.3 1846.0 658.5 1846.4 654.9C1846.6 651.9 1847.0 647.8 1847.5 644.8C1847.8 642.3 1848.3 638.9 1848.8 636.4C1849.1 634.5 1849.7 632.0 1850.2 630.1C1850.5 628.8 1851.0 627.1 1851.4 625.9C1851.6 625.4 1851.8 624.7 1852.0 624.2C1852.5 625.5 1853.3 627.2 1853.8 628.5C1854.8 631.7 1856.1 636.0 1856.8 639.3C1857.8 644.1 1858.6 650.6 1859.1 655.5C1859.8 661.9 1860.2 670.4 1860.4 676.7C1860.7 684.5 1860.9 694.9 1861.0 702.7C1861.2 711.9 1861.2 724.1 1861.4 733.2C1861.5 743.7 1861.6 757.6 1861.8 768.1C1862.0 779.8 1862.2 795.4 1862.5 807.2C1862.7 820.1 1863.1 837.4 1863.5 850.4C1863.9 864.5 1864.4 883.4 1865.0 897.6C1865.5 913.0 1866.4 933.4 1867.1 948.8C1867.9 965.3 1869.1 987.3 1870.0 1003.8C1870.7 990.4 1871.8 972.6 1872.4 959.3C1873.0 946.8 1873.7 930.3 1874.2 917.8C1874.6 906.4 1875.1 891.1 1875.4 879.6C1875.7 869.1 1876.1 855.1 1876.3 844.6C1876.5 835.1 1876.7 822.5 1876.9 813.0C1877.0 804.5 1877.1 793.2 1877.3 784.7C1877.4 777.3 1877.5 767.5 1877.7 760.1C1877.8 753.8 1878.0 745.3 1878.3 739.0C1878.6 733.9 1879.0 727.0 1879.6 721.8C1880.0 717.9 1880.8 712.6 1881.6 708.7C1882.1 706.1 1883.0 702.6 1883.8 700.0C1884.1 698.9 1884.6 697.6 1885.0 696.5C1888.5 777.6 1894.0 885.8 1896.7 966.9C1897.6 993.0 1898.2 1027.7 1898.8 1053.8C1899.1 1066.8 1899.4 1084.2 1899.9 1097.2C1900.4 1110.2 1901.1 1127.6 1902.1 1140.6C1903.1 1153.7 1904.2 1171.2 1906.4 1184.1C1907.9 1192.8 1911.3 1204.2 1913.4 1212.8C1914.7 1204.2 1916.8 1192.8 1917.7 1184.1C1919.0 1171.1 1919.3 1153.7 1919.9 1140.6C1920.5 1127.6 1921.0 1110.2 1921.4 1097.2C1921.8 1084.2 1922.1 1066.8 1922.5 1053.8C1923.2 1027.7 1924.0 993.0 1925.1 966.9C1928.9 879.8 1936.6 763.7 1941.5 676.6C1941.6 677.0 1941.7 677.6 1941.8 678.1C1942.0 679.2 1942.3 680.7 1942.4 681.8C1942.7 683.5 1943.0 685.7 1943.2 687.4C1943.5 689.6 1943.8 692.5 1944.0 694.7C1944.2 697.4 1944.5 700.9 1944.6 703.6C1944.8 706.8 1945.0 711.0 1945.2 714.1C1945.3 717.7 1945.5 722.5 1945.6 726.1C1945.8 730.1 1945.9 735.5 1946.1 739.5C1946.3 744.0 1946.5 750.0 1946.6 754.4C1946.8 759.3 1947.1 765.8 1947.4 770.7C1947.6 775.9 1948.0 783.0 1948.4 788.3C1948.7 793.9 1949.3 801.5 1949.7 807.2C1950.6 801.0 1952.0 792.8 1952.9 786.6C1953.6 780.8 1954.6 773.1 1955.2 767.4C1955.8 762.1 1956.4 755.0 1956.9 749.6C1957.3 744.8 1957.8 738.3 1958.1 733.4C1958.5 729.0 1958.9 723.2 1959.2 718.8C1959.5 714.8 1959.9 709.6 1960.2 705.7C1960.5 702.3 1961.0 697.7 1961.4 694.3C1961.8 691.3 1962.4 687.4 1962.9 684.5C1963.4 682.1 1964.1 678.9 1964.8 676.5C1965.3 674.7 1966.1 672.3 1966.7 670.5C1967.1 669.2 1967.8 667.6 1968.3 666.4C1968.6 665.9 1968.9 665.3 1969.1 664.8C1971.5 670.9 1975.4 678.7 1977.0 685.0C1978.5 690.9 1979.0 699.0 1979.5 705.0C1983.5 754.8 1983.8 821.5 1985.6 871.5C1987.7 841.4 1990.4 801.2 1992.5 771.0C1994.8 738.0 1997.2 694.0 2000.0 661.0C2000.7 652.5 2001.6 641.2 2002.9 632.8C2003.7 627.1 2005.4 619.6 2006.6 614.0C2007.7 608.9 2008.7 601.9 2010.4 597.0C2011.2 594.6 2011.9 590.8 2014.0 589.5C2015.5 588.5 2018.3 588.9 2020.0 589.5C2022.1 590.2 2024.7 592.2 2026.0 594.0C2028.0 596.7 2029.1 601.3 2029.9 604.6C2031.2 610.1 2031.3 617.8 2031.8 623.4C2032.3 629.0 2032.9 636.6 2033.2 642.2C2035.0 678.4 2035.4 726.8 2036.4 763.1C2039.3 719.6 2043.3 661.5 2046.2 618.0C2048.5 628.0 2051.5 641.4 2053.8 651.4C2055.7 637.1 2058.5 618.1 2060.2 603.8C2061.7 590.8 2062.8 573.3 2064.5 560.3C2065.8 550.5 2066.1 536.8 2070.0 527.7C2071.3 524.7 2073.7 520.7 2076.5 519.0C2078.8 517.6 2082.6 517.7 2085.2 517.5C2089.4 517.1 2095.8 515.2 2099.3 517.5C2105.1 521.4 2105.6 532.5 2108.3 539.0C2110.5 531.5 2110.6 520.0 2115.6 514.0C2120.5 508.2 2131.5 506.3 2138.3 503.0C2140.8 509.1 2144.0 517.2 2146.5 523.3C2149.3 521.9 2153.0 520.0 2155.8 518.6C2157.4 531.1 2160.0 547.7 2161.2 560.3C2163.1 579.8 2164.4 605.9 2165.5 625.5C2166.6 645.0 2167.3 671.1 2168.8 690.6C2169.8 703.1 2171.8 719.8 2173.1 732.3C2174.8 713.3 2176.8 687.9 2178.6 668.9C2179.8 655.9 2181.7 638.5 2182.9 625.5C2183.4 620.3 2184.0 613.2 2184.5 608.0C2185.6 611.1 2187.2 615.2 2188.3 618.3C2190.0 607.4 2192.4 592.9 2193.8 582.0C2195.4 569.0 2195.4 551.4 2198.1 538.6C2199.4 532.5 2200.6 523.7 2204.6 519.0C2207.2 515.9 2212.6 513.1 2216.6 512.5C2224.1 511.4 2235.0 513.5 2241.5 517.5C2246.1 520.3 2249.9 526.9 2252.4 531.7C2256.7 539.9 2258.9 552.4 2261.7 561.2C2264.1 555.7 2266.1 547.7 2269.8 543.0C2272.9 539.1 2279.0 536.0 2283.0 533.0"/>
<path class="cv" stroke="#ff00ff" d="M222.5 277.4C268.6 279.0 329.9 282.2 376.0 282.9C389.2 283.1 406.8 281.8 420.0 282.6C436.6 283.6 458.6 286.7 475.0 289.8C491.7 293.0 513.8 298.5 530.0 303.5C537.5 305.8 546.6 311.7 554.4 312.6C563.6 313.6 575.7 308.9 585.0 308.5C601.5 307.8 623.5 310.9 640.0 311.5C656.5 312.1 678.5 311.7 695.0 312.3C711.5 312.9 733.5 314.6 750.0 315.3C764.1 315.9 783.1 314.1 797.0 316.5C797.9 316.7 799.1 317.5 800.0 317.5C803.7 317.4 808.0 313.6 811.7 313.1C814.2 312.8 817.8 312.7 820.0 314.0C822.4 315.4 824.2 319.1 825.3 321.7C826.8 325.3 827.0 330.7 827.6 334.6C828.6 340.9 829.5 349.4 830.3 355.7C831.3 363.5 832.6 373.8 833.5 381.6C834.6 391.5 836.0 404.6 837.0 414.5C837.9 422.9 839.0 434.2 839.7 442.6C840.4 451.3 840.8 463.0 841.4 471.7C842.4 487.2 843.9 507.8 845.3 523.3C846.3 534.2 846.5 548.8 848.9 559.5C849.7 563.0 851.7 567.5 852.9 570.9C854.9 565.9 857.6 559.2 859.5 554.1C861.6 548.4 864.6 540.9 866.0 535.0C866.8 531.6 867.4 526.8 867.8 523.3C868.8 515.6 869.6 505.2 870.4 497.5C871.4 487.8 872.0 474.8 873.6 465.2C874.2 461.3 875.6 456.1 876.6 452.3C877.8 448.0 880.0 442.4 881.0 438.0C882.2 432.8 882.8 425.5 884.0 420.3C884.8 416.8 886.5 412.2 887.5 408.7C888.5 413.6 890.1 420.1 891.0 425.0C892.2 431.2 893.6 439.5 894.4 445.8C895.2 451.6 895.5 459.4 896.3 465.2C897.0 470.0 898.5 476.4 899.4 481.2C900.5 476.4 902.4 470.1 903.2 465.2C904.5 457.5 904.3 447.0 905.8 439.4C906.2 437.3 907.3 434.7 907.8 432.6C909.0 427.2 909.8 420.0 910.4 414.5C911.1 407.5 911.4 398.0 911.8 391.0C912.3 383.9 912.4 374.5 913.4 367.5C914.2 361.4 915.5 353.3 917.5 347.5C918.7 344.1 920.7 339.7 922.8 336.9C924.4 334.8 927.0 332.4 929.2 331.0C931.8 329.3 935.6 327.6 938.6 326.9C941.9 326.1 946.6 326.3 950.0 326.1C955.9 325.7 963.8 325.2 969.7 325.0C978.8 324.7 990.9 324.9 1000.0 325.0C1027.0 325.2 1062.9 325.5 1089.9 326.2C1114.6 326.9 1147.6 329.3 1172.3 329.5C1180.6 329.6 1191.6 328.5 1199.8 328.9C1213.1 329.6 1230.5 333.4 1243.7 334.4C1259.3 335.6 1280.2 335.7 1295.9 335.8C1306.6 335.9 1320.9 334.1 1331.6 335.2C1340.0 336.0 1350.7 340.4 1359.1 341.3C1381.2 343.7 1411.1 340.2 1433.3 341.3C1449.8 342.1 1471.8 344.9 1488.2 346.8C1491.7 347.2 1496.5 347.7 1500.0 348.4C1507.5 349.8 1517.7 351.5 1524.7 354.6C1529.6 356.7 1535.8 360.6 1539.5 364.4C1543.4 368.5 1547.0 375.3 1549.3 380.5C1552.1 386.8 1554.1 395.9 1555.5 402.7C1557.7 413.7 1559.2 428.6 1560.4 439.7C1561.6 450.8 1562.8 465.6 1563.6 476.7C1564.6 491.5 1565.4 511.2 1566.1 526.0C1566.8 540.8 1567.8 560.5 1568.3 575.3C1568.8 590.1 1569.4 609.9 1569.7 624.7C1570.7 672.6 1571.1 736.6 1572.1 784.5C1573.1 833.9 1575.5 899.6 1576.6 949.0C1577.7 998.3 1578.4 1064.1 1579.5 1113.4C1580.2 1143.1 1581.5 1182.8 1582.3 1212.5C1583.0 1182.8 1584.3 1143.1 1584.8 1113.4C1585.6 1064.1 1585.2 998.3 1586.1 949.0C1587.0 899.6 1589.0 833.8 1590.6 784.5C1592.1 736.6 1594.5 672.6 1596.5 624.7C1597.1 609.9 1597.9 590.1 1598.7 575.3C1599.5 560.5 1600.6 540.8 1601.6 526.0C1602.6 511.2 1604.2 491.5 1605.6 476.7C1606.7 465.6 1608.1 450.7 1609.8 439.7C1611.0 432.2 1612.3 422.1 1614.7 415.0C1616.3 410.3 1618.8 403.9 1622.1 400.2C1624.7 397.2 1629.9 395.0 1633.2 392.8C1637.6 389.8 1643.2 385.3 1648.0 382.9C1653.6 380.0 1661.6 377.1 1667.7 375.5C1672.8 374.2 1679.8 373.4 1685.0 373.1C1689.4 372.9 1695.6 372.1 1699.8 373.6C1704.2 375.1 1709.3 379.2 1712.1 382.9C1715.9 388.0 1718.0 396.5 1719.5 402.7C1722.2 413.6 1723.3 428.6 1724.5 439.7C1725.7 450.8 1726.6 465.6 1727.4 476.7C1728.2 487.8 1728.8 502.6 1729.9 513.7C1730.5 519.2 1731.7 526.6 1732.4 532.1C1736.8 512.6 1742.6 486.6 1747.0 467.1C1748.7 467.2 1751.2 466.8 1752.8 467.5C1755.0 468.5 1757.7 470.8 1758.7 473.0C1768.5 493.9 1761.9 526.8 1763.3 549.8C1763.6 547.3 1764.1 543.9 1764.4 541.3C1764.7 538.9 1765.0 535.8 1765.3 533.4C1765.5 531.2 1765.8 528.3 1765.9 526.1C1766.1 524.1 1766.3 521.4 1766.5 519.4C1766.6 517.6 1766.8 515.2 1767.0 513.4C1767.1 511.8 1767.3 509.6 1767.5 508.0C1767.6 506.6 1767.8 504.7 1767.9 503.3C1768.1 502.1 1768.3 500.5 1768.4 499.3C1768.6 498.3 1768.8 497.0 1768.9 496.0C1769.1 495.3 1769.3 494.3 1769.4 493.5C1769.5 493.0 1769.6 492.4 1769.7 491.9C1769.8 491.7 1769.9 491.4 1769.9 491.2C1769.9 491.4 1770.0 491.7 1770.0 492.0C1770.1 492.6 1770.2 493.3 1770.3 493.9C1770.4 494.8 1770.5 496.0 1770.6 496.9C1770.8 498.0 1770.9 499.6 1771.0 500.7C1771.2 502.1 1771.3 504.0 1771.4 505.4C1771.5 507.1 1771.7 509.3 1771.8 511.0C1771.9 512.9 1772.0 515.4 1772.2 517.3C1772.3 519.4 1772.4 522.2 1772.5 524.4C1772.7 526.7 1772.8 529.8 1773.0 532.2C1773.1 534.8 1773.3 538.2 1773.5 540.8C1773.7 543.5 1773.9 547.2 1774.1 550.0C1774.4 553.0 1774.7 557.0 1775.0 560.0C1775.4 557.7 1776.0 554.7 1776.4 552.5C1776.8 550.4 1777.2 547.6 1777.5 545.5C1777.8 543.6 1778.1 541.0 1778.4 539.1C1778.6 537.3 1778.9 534.9 1779.1 533.2C1779.3 531.6 1779.5 529.4 1779.7 527.8C1779.9 526.4 1780.1 524.5 1780.3 523.1C1780.5 521.8 1780.7 520.2 1780.9 518.9C1781.1 517.8 1781.3 516.4 1781.6 515.4C1781.7 514.5 1782.0 513.3 1782.2 512.5C1782.4 511.8 1782.6 510.9 1782.8 510.3C1782.9 509.8 1783.1 509.2 1783.2 508.8C1783.3 508.6 1783.3 508.4 1783.4 508.2C1783.6 508.9 1783.8 509.8 1784.0 510.4C1784.4 512.1 1785.0 514.3 1785.3 516.0C1785.8 518.5 1786.3 521.9 1786.6 524.4C1787.1 527.7 1787.5 532.1 1787.8 535.4C1788.1 539.5 1788.4 544.9 1788.6 548.9C1788.8 553.6 1789.0 560.0 1789.1 564.7C1789.3 570.1 1789.4 577.4 1789.6 582.8C1789.7 588.9 1789.9 597.0 1790.1 603.1C1790.3 609.8 1790.5 618.7 1790.8 625.5C1791.0 632.8 1791.4 642.6 1791.7 649.9C1792.1 657.9 1792.7 668.5 1793.1 676.5C1793.6 685.0 1794.4 696.4 1795.0 705.0C1795.9 695.2 1797.1 682.2 1797.9 672.4C1798.6 663.3 1799.4 651.2 1800.0 642.1C1800.5 633.7 1801.1 622.5 1801.5 614.1C1801.8 606.4 1802.2 596.1 1802.5 588.4C1802.8 581.5 1803.0 572.2 1803.2 565.3C1803.4 559.1 1803.6 550.8 1803.9 544.6C1804.1 539.2 1804.3 532.0 1804.6 526.5C1804.9 521.9 1805.2 515.7 1805.7 511.1C1806.1 507.4 1806.7 502.3 1807.4 498.6C1807.9 495.6 1808.8 491.8 1809.6 488.9C1810.1 487.0 1811.0 484.5 1811.7 482.6C1812.0 481.8 1812.5 480.8 1812.8 480.0C1815.6 484.2 1820.4 489.3 1822.2 494.0C1825.0 501.4 1825.2 512.2 1826.0 520.0C1832.4 583.4 1834.4 668.4 1838.0 732.0C1838.7 724.7 1839.7 715.1 1840.3 707.8C1840.9 701.0 1841.6 692.0 1842.0 685.3C1842.4 679.0 1842.9 670.7 1843.2 664.5C1843.5 658.8 1843.9 651.2 1844.1 645.5C1844.3 640.3 1844.6 633.5 1844.8 628.3C1845.0 623.7 1845.2 617.6 1845.5 613.0C1845.7 608.9 1846.0 603.6 1846.3 599.5C1846.5 596.1 1846.9 591.5 1847.3 588.1C1847.7 585.3 1848.2 581.6 1848.7 578.8C1849.1 576.6 1849.7 573.8 1850.3 571.6C1850.6 570.2 1851.2 568.3 1851.6 566.9C1851.8 566.3 1852.1 565.6 1852.3 565.0C1852.8 566.3 1853.6 567.9 1854.0 569.2C1855.1 572.3 1856.3 576.4 1857.0 579.6C1858.0 584.3 1858.9 590.6 1859.4 595.3C1860.0 601.5 1860.4 609.7 1860.7 615.9C1861.0 623.4 1861.2 633.5 1861.3 641.1C1861.5 649.9 1861.6 661.7 1861.7 670.6C1861.8 680.7 1862.0 694.2 1862.1 704.4C1862.3 715.7 1862.6 730.9 1862.8 742.2C1863.1 754.8 1863.5 771.5 1863.8 784.1C1864.2 797.8 1864.8 816.1 1865.3 829.8C1865.9 844.7 1866.7 864.5 1867.5 879.4C1868.3 895.4 1869.5 916.7 1870.4 932.7C1871.2 919.6 1872.3 902.1 1872.9 889.0C1873.6 876.9 1874.3 860.6 1874.8 848.4C1875.2 837.2 1875.7 822.2 1876.1 811.0C1876.4 800.7 1876.7 787.0 1876.9 776.7C1877.2 767.4 1877.4 755.0 1877.5 745.7C1877.7 737.4 1877.8 726.3 1878.0 718.0C1878.1 710.7 1878.2 701.1 1878.4 693.8C1878.6 687.6 1878.8 679.4 1879.1 673.2C1879.4 668.1 1879.8 661.4 1880.4 656.3C1880.9 652.5 1881.7 647.3 1882.5 643.5C1883.0 640.9 1884.0 637.5 1884.8 634.9C1885.1 633.9 1885.6 632.5 1886.0 631.5C1888.9 706.0 1893.5 805.4 1895.6 880.0C1896.3 906.1 1896.3 940.8 1897.1 966.9C1897.9 993.0 1899.0 1027.8 1901.0 1053.8C1902.0 1066.9 1903.5 1084.3 1905.8 1097.2C1907.5 1106.7 1911.4 1119.1 1913.8 1128.5C1915.5 1119.1 1918.2 1106.7 1919.3 1097.2C1920.7 1084.2 1920.9 1066.8 1921.4 1053.8C1922.4 1027.7 1922.9 993.0 1923.6 966.9C1924.4 940.8 1925.3 906.1 1926.4 880.0C1929.8 796.9 1936.1 686.1 1940.3 603.0C1940.4 603.5 1940.6 604.2 1940.7 604.7C1940.9 605.9 1941.3 607.5 1941.5 608.8C1941.8 610.6 1942.2 613.1 1942.4 615.0C1942.7 617.4 1943.1 620.6 1943.3 623.1C1943.6 626.0 1943.9 630.0 1944.0 633.0C1944.3 636.5 1944.5 641.1 1944.6 644.6C1944.8 648.6 1945.0 654.0 1945.1 658.0C1945.3 662.4 1945.5 668.4 1945.6 672.9C1945.8 677.8 1946.0 684.4 1946.2 689.4C1946.5 694.8 1946.8 702.0 1947.0 707.4C1947.3 713.3 1947.8 721.1 1948.2 727.0C1948.6 733.3 1949.2 741.7 1949.7 748.0C1950.6 740.9 1951.8 731.5 1952.6 724.4C1953.3 717.8 1954.1 709.0 1954.7 702.5C1955.2 696.4 1955.8 688.3 1956.2 682.2C1956.6 676.6 1957.0 669.2 1957.3 663.7C1957.6 658.6 1957.9 651.9 1958.2 646.9C1958.5 642.4 1958.8 636.4 1959.1 632.0C1959.3 628.0 1959.7 622.8 1960.1 618.9C1960.4 615.5 1960.9 611.1 1961.4 607.7C1961.8 605.0 1962.5 601.3 1963.1 598.6C1963.6 596.5 1964.4 593.7 1965.0 591.7C1965.5 590.3 1966.2 588.4 1966.7 587.1C1966.9 586.5 1967.3 585.8 1967.5 585.2C1968.2 589.6 1969.1 595.6 1970.0 600.0C1970.7 603.6 1971.6 608.5 1972.8 612.0C1973.5 614.2 1974.8 617.0 1976.0 619.0C1976.9 620.4 1978.8 621.8 1979.4 623.4C1982.1 630.9 1980.2 642.0 1980.5 650.0C1980.8 659.0 1981.0 671.0 1981.3 680.0C1982.0 701.0 1983.1 729.0 1984.0 750.0C1984.7 766.3 1985.8 788.1 1986.5 804.4C1987.2 791.1 1988.2 773.3 1989.0 760.0C1989.7 748.0 1990.9 732.0 1991.5 720.0C1992.1 707.9 1992.8 691.9 1993.3 679.8C1993.6 671.3 1993.6 660.0 1994.2 651.6C1994.8 643.1 1996.2 631.9 1997.0 623.4C1997.8 614.9 1998.5 603.6 1999.8 595.2C2000.7 589.5 2002.5 582.0 2003.6 576.4C2004.7 570.8 2005.9 563.2 2007.4 557.6C2008.3 554.2 2008.3 548.5 2011.2 546.5C2014.5 544.1 2020.8 546.5 2024.9 546.5C2025.5 551.2 2026.1 557.6 2026.8 562.3C2027.4 566.5 2028.7 572.1 2029.2 576.4C2029.8 581.4 2030.3 588.2 2030.6 593.3C2031.7 610.3 2032.2 633.0 2033.0 650.0C2034.0 670.8 2035.4 698.6 2036.4 719.4C2039.3 673.2 2043.3 611.5 2046.2 565.3C2048.7 575.0 2052.1 587.9 2054.6 597.6C2056.3 579.9 2058.3 556.3 2060.2 538.6C2061.6 525.6 2062.9 508.0 2065.6 495.2C2067.0 488.5 2068.5 479.2 2072.1 473.4C2074.5 469.6 2078.8 464.7 2083.0 463.2C2087.9 461.4 2096.3 460.8 2100.4 464.0C2106.7 469.0 2105.7 482.1 2108.0 489.8C2110.3 481.5 2110.0 468.5 2115.6 462.0C2120.5 456.4 2131.5 455.0 2138.3 452.0C2140.8 456.9 2144.0 463.6 2146.5 468.5C2149.3 467.4 2152.9 466.1 2155.7 465.0C2158.0 474.1 2161.8 486.0 2163.4 495.2C2165.7 508.1 2166.7 525.6 2167.7 538.6C2169.2 558.1 2170.2 584.2 2171.0 603.8C2172.0 627.4 2173.0 658.8 2173.8 682.4C2174.9 658.8 2176.5 627.4 2177.5 603.8C2178.2 587.4 2179.0 565.4 2179.6 549.0C2182.2 552.5 2185.7 557.3 2188.3 560.8C2190.0 547.6 2192.1 530.1 2193.8 516.9C2195.1 507.1 2195.1 493.7 2198.1 484.3C2199.4 480.3 2201.9 475.2 2204.6 472.0C2207.6 468.4 2212.3 463.5 2216.8 462.5C2222.9 461.1 2231.6 464.0 2237.0 467.0C2241.8 469.7 2246.9 475.4 2250.0 480.0C2254.5 486.8 2257.2 497.7 2260.3 505.3C2263.2 499.0 2266.4 490.3 2269.8 484.3C2272.1 480.2 2274.5 473.7 2278.5 471.3C2279.7 470.6 2281.7 470.9 2283.0 470.8"/>
</g>
<g id="ticklabels">
<text class="tk" transform="translate(221.5 1651.5) scale(0.934 1)" x="0" y="0">4000</text>
<text class="tk" transform="translate(520.0 1651.5) scale(0.934 1)" x="0" y="0">3500</text>
<text class="tk" transform="translate(818.5 1651.5) scale(0.934 1)" x="0" y="0">3000</text>
<text class="tk" transform="translate(1117.0 1651.5) scale(0.934 1)" x="0" y="0">2500</text>
<text class="tk" transform="translate(1415.4 1651.5) scale(0.934 1)" x="0" y="0">2000</text>
<text class="tk" transform="translate(1713.9 1651.5) scale(0.934 1)" x="0" y="0">1500</text>
<text class="tk" transform="translate(2012.4 1651.5) scale(0.934 1)" x="0" y="0">1000</text>
</g>
<text class="ax" transform="translate(934 1778) scale(0.924 1)" x="0" y="0" letter-spacing="1.9">Wavenumber (cm<tspan font-size="44.3" dy="-38.7">-1</tspan><tspan dy="38.7">)</tspan></text>
<text class="ax" transform="translate(82 1154) rotate(-90) scale(0.95 1)" x="0" y="0" letter-spacing="0">Transmittance (a.u)</text>
<text transform="translate(2145 130.9) scale(1.02 1)" x="0" y="0" font-size="70.5" font-weight="bold">(b)</text>
<g id="legend">
<line x1="360.5" y1="1063" x2="501.2" y2="1063" stroke="#000000" stroke-width="11.5" stroke-linecap="round"/>
<text class="lg" transform="translate(518.5 1084.8) scale(0.921 1)" x="0" y="0" letter-spacing="0">Neat PCL</text>
<line x1="360.5" y1="1138.9" x2="501.2" y2="1138.9" stroke="#ff0000" stroke-width="11.5" stroke-linecap="round"/>
<text class="lg" transform="translate(518.5 1160.7) scale(0.921 1)" x="0" y="0" letter-spacing="0">99/1 w/w PCL/EA cellulose</text>
<line x1="360.5" y1="1214.9" x2="501.2" y2="1214.9" stroke="#0000ff" stroke-width="11.5" stroke-linecap="round"/>
<text class="lg" transform="translate(518.5 1237.3) scale(0.921 1)" x="0" y="0" letter-spacing="0">97/3 w/w PCL/EA cellulose</text>
<line x1="360.5" y1="1291" x2="501.2" y2="1291" stroke="#ff00ff" stroke-width="11.5" stroke-linecap="round"/>
<text class="lg" transform="translate(518.5 1312.7) scale(0.921 1)" x="0" y="0" letter-spacing="0">95/5 w/w PCL/EA cellulose</text>
</g>
</svg>
</body></html>
